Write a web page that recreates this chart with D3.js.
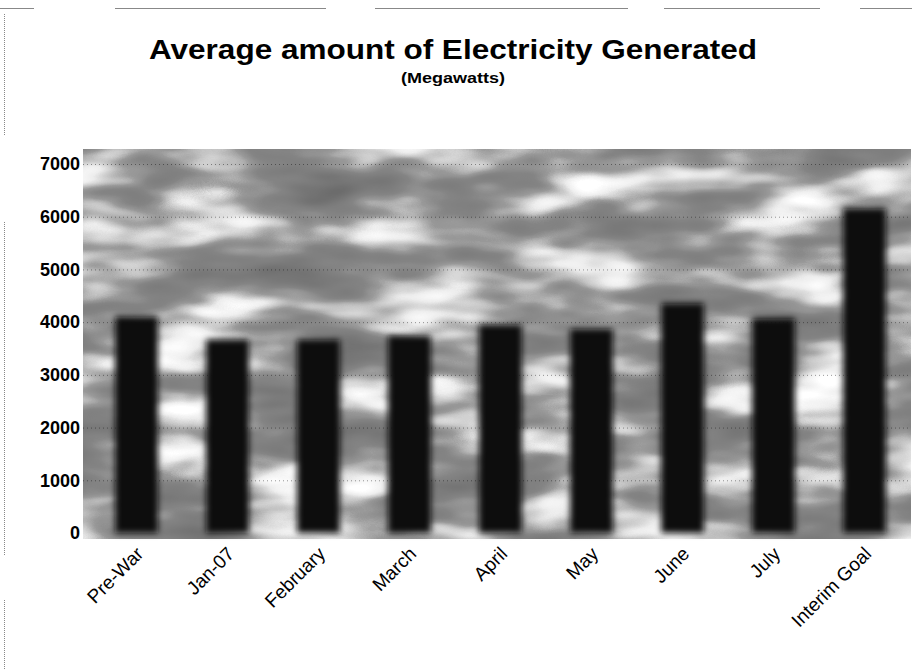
<!DOCTYPE html>
<html>
<head>
<meta charset="utf-8">
<script src="https://cdn.jsdelivr.net/npm/d3@7"></script>
<style>
  html, body { margin: 0; padding: 0; background: #fff; }
  svg { display: block; }
  text { font-family: "Liberation Sans", Arial, sans-serif; fill: #000; }
</style>
</head>
<body>
<svg id="chart" width="912" height="669"></svg>
<script>
// ---- data ----
const categories = ["Pre-War", "Jan-07", "February", "March", "April", "May", "June", "July", "Interim Goal"];
const values = [4110, 3670, 3670, 3740, 3950, 3870, 4360, 4075, 6160];
const yTicks = [0, 1000, 2000, 3000, 4000, 5000, 6000, 7000];
const titleText = "Average amount of Electricity Generated";
const subtitleText = "(Megawatts)";

// ---- layout ----
const W = 912, H = 669;
const plot = { left: 83, right: 911, top: 149, bottom: 539 };

const svg = d3.select("#chart");
const defs = svg.append("defs");

// cloud texture filter
const cf = defs.append("filter").attr("id", "clouds")
  .attr("x", 0).attr("y", 0).attr("width", 1).attr("height", 1)
  .attr("color-interpolation-filters", "sRGB")
  .attr("filterUnits", "objectBoundingBox");
cf.append("feTurbulence").attr("type", "fractalNoise")
  .attr("baseFrequency", "0.008 0.024").attr("numOctaves", 3).attr("seed", 11)
  .attr("result", "noise");
cf.append("feColorMatrix").attr("type", "matrix")
  .attr("values", "1 0 0 0 0  1 0 0 0 0  1 0 0 0 0  0 0 0 0 1")
  .attr("result", "grey");
const ct = cf.append("feComponentTransfer");
const tv = "0.40 0.43 0.46 0.49 0.52 0.60 0.78 0.93 1 1 1";
ct.append("feFuncR").attr("type", "table").attr("tableValues", tv);
ct.append("feFuncG").attr("type", "table").attr("tableValues", tv);
ct.append("feFuncB").attr("type", "table").attr("tableValues", tv);

// bar blur
defs.append("filter").attr("id", "barblur")
  .attr("x", "-30%").attr("y", "-10%").attr("width", "160%").attr("height", "120%")
  .append("feGaussianBlur").attr("stdDeviation", 3);

// ---- scanned frame lines ----
const frame = svg.append("g").attr("stroke", "#888").attr("stroke-width", 1).attr("fill", "none");
[[0, 34], [115, 326], [375, 628], [664, 820], [860, 912]].forEach(s => {
  frame.append("line").attr("x1", s[0]).attr("x2", s[1]).attr("y1", 8.5).attr("y2", 8.5);
});
[[14, 136], [222, 556], [600, 669]].forEach(s => {
  frame.append("line").attr("x1", 4.5).attr("x2", 4.5).attr("y1", s[0]).attr("y2", s[1])
    .attr("stroke-dasharray", "1,1");
});

// ---- scales ----
const x = d3.scaleBand().domain(categories).range([91, 910])
  .paddingInner(0.53).paddingOuter(0.265);
const y = d3.scaleLinear().domain([0, 7000]).range([533, 164]);

// ---- plot background ----
svg.append("rect")
  .attr("x", plot.left).attr("y", plot.top)
  .attr("width", plot.right - plot.left).attr("height", plot.bottom - plot.top)
  .attr("fill", "#888")
  .attr("filter", "url(#clouds)");

// gridlines (dotted)
svg.append("g").selectAll("line").data(yTicks.filter(d => d > 0)).join("line")
  .attr("x1", plot.left).attr("x2", plot.right)
  .attr("y1", d => y(d) + 0.5).attr("y2", d => y(d) + 0.5)
  .attr("stroke", "#000").attr("stroke-opacity", 0.4)
  .attr("stroke-dasharray", "1,3");

// ---- bars ----
svg.append("g").attr("filter", "url(#barblur)")
  .selectAll("rect").data(categories).join("rect")
  .attr("x", d => x(d))
  .attr("width", x.bandwidth())
  .attr("y", (d, i) => y(values[i]))
  .attr("height", (d, i) => y(0) - y(values[i]))
  .attr("fill", "#080808");

// ---- y axis ----
const yAxis = svg.append("g")
  .attr("transform", `translate(${plot.left - 2},0)`)
  .call(d3.axisLeft(y).tickValues(yTicks).tickSize(0).tickPadding(1).tickFormat(d3.format("d")));
yAxis.select(".domain").remove();
yAxis.selectAll("text")
  .style("font-family", '"Liberation Sans", Arial, sans-serif')
  .style("font-size", "18px").style("font-weight", "bold").attr("fill", "#000");

// ---- x axis ----
const xAxis = svg.append("g")
  .attr("transform", `translate(0,${plot.bottom})`)
  .call(d3.axisBottom(x).tickSize(0).tickPadding(0));
xAxis.select(".domain").remove();
xAxis.selectAll("text")
  .style("font-family", '"Liberation Sans", Arial, sans-serif')
  .style("font-size", "19px").attr("fill", "#000")
  .attr("text-anchor", "end")
  .attr("dy", "0")
  .attr("transform", "translate(8,16) rotate(-45)");

// ---- titles ----
svg.append("text").attr("x", 453).attr("y", 59)
  .attr("text-anchor", "middle")
  .attr("textLength", 608).attr("lengthAdjust", "spacingAndGlyphs")
  .style("font-size", "27px").style("font-weight", "bold")
  .text(titleText);
svg.append("text").attr("x", 453).attr("y", 83)
  .attr("text-anchor", "middle")
  .attr("textLength", 104).attr("lengthAdjust", "spacingAndGlyphs")
  .style("font-size", "15px").style("font-weight", "bold")
  .text(subtitleText);
</script>
</body>
</html>
